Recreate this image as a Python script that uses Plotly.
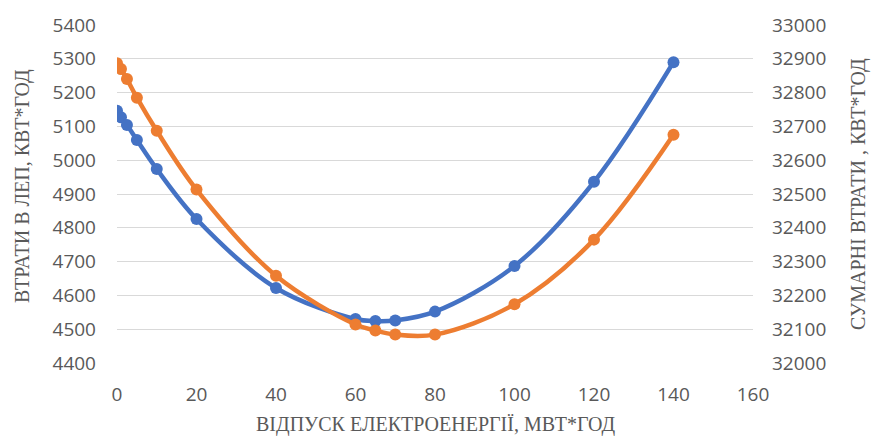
import plotly.graph_objects as go

x_vals = [0, 1, 2.5, 5, 10, 20, 40, 60, 65, 70, 80, 100, 120, 140]
line_losses = [5146, 5127, 5104, 5060, 4974, 4826, 4622, 4530, 4524, 4526, 4552, 4687, 4936, 5290]
total_losses = [32887, 32870, 32840, 32785, 32687, 32513, 32258, 32114, 32096, 32084, 32084, 32174, 32365, 32675]

x_title = "ВІДПУСК ЕЛЕКТРОЕНЕРГІЇ, МВТ*ГОД"
y_title = "ВТРАТИ В ЛЕП, КВТ*ГОД"
y2_title = "СУМАРНІ ВТРАТИ , КВТ*ГОД"

tick_font = dict(family="Open Sans, Liberation Sans, sans-serif", size=19, color="#595959")
title_font = dict(family="Liberation Serif, serif", size=20, color="#595959")

fig = go.Figure()
fig.add_trace(go.Scatter(
    x=x_vals, y=line_losses, mode="lines+markers", line_shape="spline",
    line=dict(color="#4472C4", width=4.5), marker=dict(color="#4472C4", size=12),
    name="ЛЕП", yaxis="y"))
fig.add_trace(go.Scatter(
    x=x_vals, y=total_losses, mode="lines+markers", line_shape="spline",
    line=dict(color="#ED7D31", width=4.5), marker=dict(color="#ED7D31", size=12),
    name="Сумарні", yaxis="y2"))

fig.update_layout(
    width=871, height=437,
    margin=dict(l=117, r=118, t=17, b=74),
    paper_bgcolor="white", plot_bgcolor="white",
    showlegend=False,
    xaxis=dict(range=[0, 160], dtick=20, tick0=0, showgrid=False, zeroline=False,
               showline=False, ticks="", tickfont=tick_font, ticklabelstandoff=18),
    yaxis=dict(range=[4400, 5400], dtick=100, showgrid=True, gridcolor="#d9d9d9",
               gridwidth=1, zeroline=False, showline=False, ticks="",
               tickfont=tick_font, ticklabelstandoff=20, tickformat="d"),
    yaxis2=dict(range=[32000, 33000], dtick=100, overlaying="y", side="right",
                showgrid=False, zeroline=False, showline=False, ticks="",
                tickfont=tick_font, ticklabelstandoff=18, tickformat="d"),
    annotations=[
        dict(text=x_title, xref="paper", yref="paper", x=0.5, y=0, yshift=-61,
             showarrow=False, font=title_font, xanchor="center", yanchor="middle"),
        dict(text=y_title, xref="paper", yref="paper", x=0, y=0.5, xshift=-95,
             yshift=8, showarrow=False, font=title_font, textangle=-90,
             xanchor="center", yanchor="middle"),
        dict(text=y2_title, xref="paper", yref="paper", x=1, y=0.5, xshift=105,
             showarrow=False, font=title_font, textangle=-90,
             xanchor="center", yanchor="middle"),
    ],
)

fig.write_html("out.html")
